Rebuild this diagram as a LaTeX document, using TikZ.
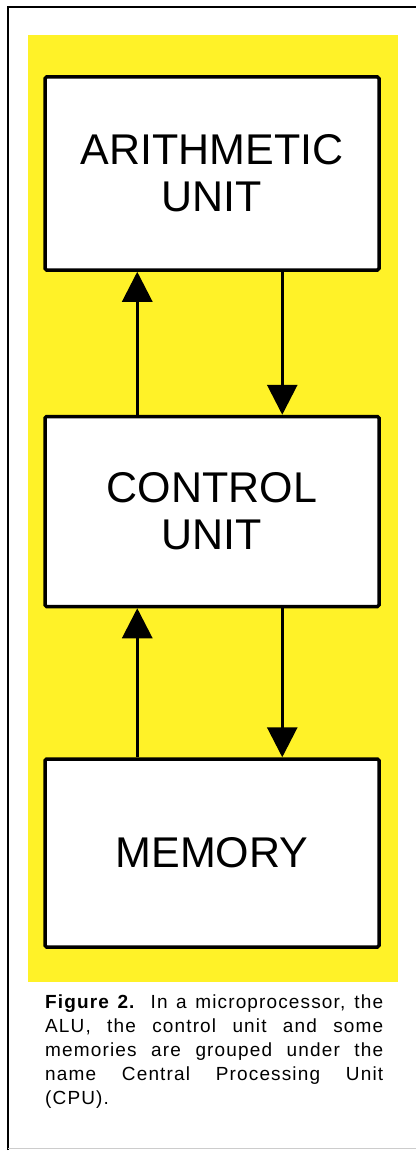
\documentclass[tikz,border=0pt]{standalone}
\usepackage{fontspec}
\setmainfont{Liberation Sans}
\newfontfamily\capfont[LetterSpace=6]{Liberation Sans}
\usetikzlibrary{positioning,arrows.meta}
\definecolor{cpuyellow}{RGB}{255,242,40}
\tikzset{
  unitbox/.style={draw,fill=white,line width=3.5pt,rounded corners=1.5pt,
    minimum width=334pt,inner sep=0pt,align=center,
    font=\fontsize{43}{47}\selectfont},
  link/.style={line width=3pt,-{Triangle[length=30pt,width=30pt]}}
}
\begin{document}
\begin{tikzpicture}[x=1pt,y=-1pt]
\useasboundingbox (0,0) rectangle (416,1158);
\draw [line width=2pt] (8,1150) -- (8,7) -- (416,7);
\draw [gray!40] (8,1148) -- (416,1148);
\fill [cpuyellow] (28,35) rectangle (398,982);

\node [unitbox,minimum height=193pt] (alu) at (212,173.5) {ARITHMETIC\\UNIT};
\node [unitbox,minimum height=190pt,below=143pt of alu] (ctrl) {CONTROL\\UNIT};
\node [unitbox,minimum height=188pt,below=149pt of ctrl] (mem) {MEMORY};

\draw [link] ([xshift=94pt]ctrl.north west) -- ([xshift=94pt]alu.south west);
\draw [link] ([xshift=239pt]alu.south west) -- ([xshift=239pt]ctrl.north west);
\draw [link] ([xshift=94pt]mem.north west) -- ([xshift=94pt]ctrl.south west);
\draw [link] ([xshift=239pt]ctrl.south west) -- ([xshift=239pt]mem.north west);

\node [anchor=north west,inner sep=0pt,text width=338pt,align=justify,
  font=\capfont\fontsize{19}{24}\selectfont] (cap) at (45,995)
  {\textbf{Figure 2.} In a microprocessor, the\linebreak
   ALU, the control unit and some\linebreak
   memories are grouped under the\linebreak
   name Central Processing Unit\linebreak
   (CPU).};
\end{tikzpicture}
\end{document}
